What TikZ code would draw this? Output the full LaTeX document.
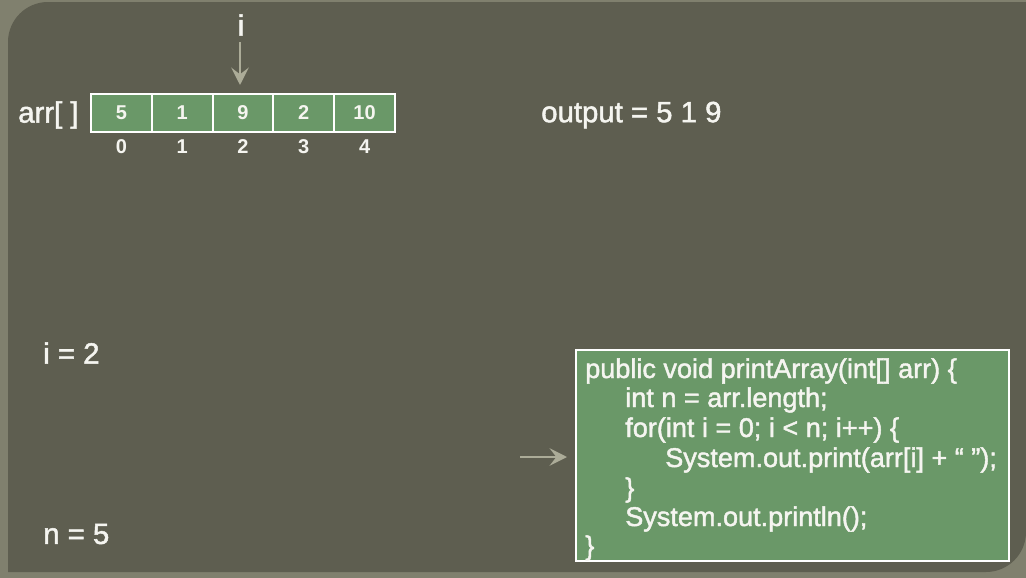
\documentclass[tikz,border=0pt]{standalone}
\usepackage{fontspec}
\setmainfont{Liberation Sans}
\newfontfamily\semib[FakeBold=1.6]{Liberation Sans}
\usetikzlibrary{arrows.meta}
\definecolor{outerbg}{RGB}{128,128,110}
\definecolor{panel}{RGB}{94,94,80}
\definecolor{cellgreen}{RGB}{106,152,104}
\definecolor{arrowgray}{RGB}{172,172,152}
\definecolor{txt}{RGB}{245,245,240}
\tikzset{
  cell/.style={draw=white, line width=1.5pt, fill=cellgreen, inner sep=0pt,
    minimum width=45.6pt, minimum height=28.5pt, text=txt,
    font=\fontsize{15}{16}\selectfont\bfseries},
  idx/.style={text=txt, inner sep=0pt, font=\fontsize{15}{16}\selectfont\bfseries},
  big/.style={text=txt, inner sep=0pt, font=\semib\fontsize{22}{26}\selectfont},
  codeline/.style={text=txt, inner sep=0pt, anchor=base west, font=\semib\fontsize{20.3}{22}\selectfont},
  codebox/.style={draw=white, line width=1.5pt, fill=cellgreen, inner sep=0pt,
    minimum width=324.75pt, minimum height=158.25pt},
  garrow/.style={draw=arrowgray, line width=1.8pt, -{Stealth[length=13pt,width=13pt,inset=5pt]}}
}
\begin{document}
\begin{tikzpicture}[x=0.75pt,y=-0.75pt]
\useasboundingbox (0,0) rectangle (1026,578);
\fill[outerbg] (0,0) rectangle (1026,578);
\fill[panel] (8,572) -- (8,300) [rounded corners=30pt] -- (8,2) -- (300,2) [sharp corners] -- (1026,2) -- (1026,300) [rounded corners=30pt] -- (1026,572) -- (700,572) [sharp corners] -- cycle;

% array
\node[big, anchor=west] (arrlab) at (18,115) {arr[ ]};
\foreach \v [count=\k from 0] in {5,1,9,2,10}{
  \node[cell] (c\k) at ({121.4+60.8*\k},113) {\v};
  \node[idx] (x\k) at ({121.4+60.8*\k},147) {\k};
}
\node[big] (ilab) at (241,25) {i};
\coordinate (itop) at (240,42);
\draw[garrow] (itop) -- ([yshift=6pt]c2.north -| itop);

% output
\node[big, anchor=west] (out) at (541,115) {output = 5 1 9};

% variables
\node[big, anchor=west] (ivar) at (43,353) {i = 2};
\node[big, anchor=west] (nvar) at (43,534) {n = 5};

% code
\node[codebox] (box) at (792.5,455.5) {};
\node[codeline] (l1) at (585,378) {public void printArray(int[] arr) \{};
\node[codeline] (l2) at (625,407) {int n = arr.length;};
\node[codeline] (l3) at (625,437) {for(int i = 0; i < n; i++) \{};
\node[codeline] (l4) at (665,467) {System.out.print(arr[i] + “ ”);};
\node[codeline] (l5) at (625,497) {\}};
\node[codeline] (l6) at (625,526) {System.out.println();};
\node[codeline] (l7) at (585,555) {\}};

\coordinate (ptr) at (520,457);
\draw[garrow] (ptr) -- ([xshift=-6pt]box.west |- ptr);
\end{tikzpicture}
\end{document}
